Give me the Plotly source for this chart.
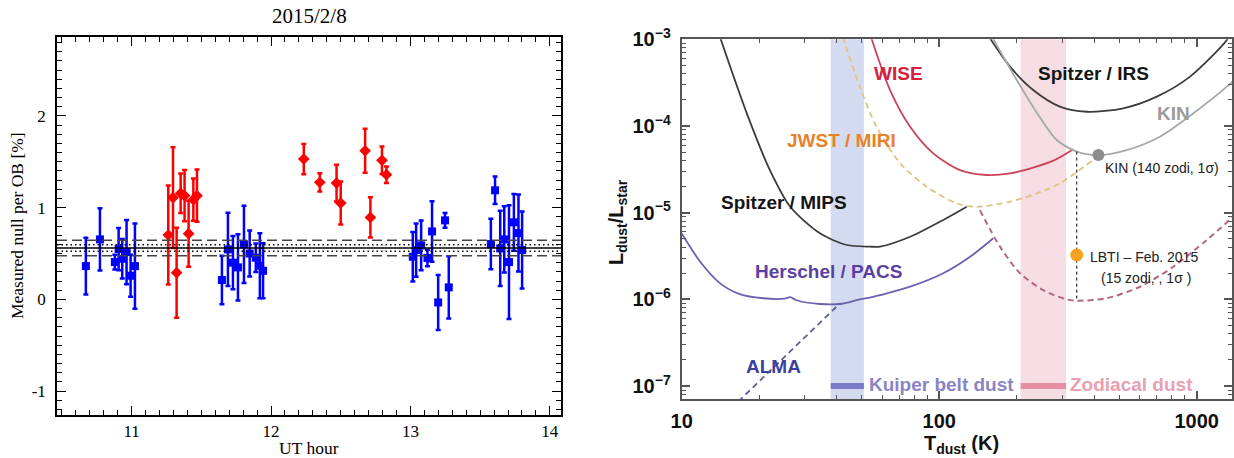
import numpy as np
import plotly.graph_objects as go

# ---------------- Left panel data: measured null per OB ----------------
blue_ut = [10.672, 10.773, 10.880, 10.907, 10.933, 10.964, 10.993, 11.024,
           11.648, 11.691, 11.727, 11.763, 11.806, 11.847, 11.891, 11.920, 11.943,
           13.017, 13.041, 13.077, 13.122, 13.155, 13.199, 13.248, 13.275,
           13.577, 13.607, 13.644, 13.673, 13.707, 13.742, 13.775, 13.801]
blue_null = [0.363, 0.654, 0.407, 0.549, 0.443, 0.516, 0.258, 0.363,
             0.211, 0.545, 0.400, 0.349, 0.600, 0.500, 0.454, 0.367, 0.312,
             0.465, 0.538, 0.589, 0.452, 0.741, -0.033, 0.861, 0.131,
             0.603, 1.189, 0.556, 0.654, 0.407, 0.840, 0.723, 0.538]
blue_err = [0.31, 0.34, 0.08, 0.23, 0.215, 0.35, 0.23, 0.465,
            0.265, 0.40, 0.29, 0.36, 0.42, 0.25, 0.155, 0.355, 0.30,
            0.27, 0.29, 0.27, 0.09, 0.33, 0.30, 0.08, 0.34,
            0.275, 0.15, 0.41, 0.36, 0.62, 0.31, 0.42, 0.42]

red_ut = [11.263, 11.297, 11.323, 11.352, 11.380, 11.409, 11.443, 11.469,
          12.235, 12.350, 12.470, 12.500, 12.675, 12.713, 12.796, 12.828]
red_null = [0.702, 1.109, 0.291, 1.156, 1.131, 0.716, 1.087, 1.131,
            1.530, 1.276, 1.268, 1.050, 1.620, 0.894, 1.516, 1.359]
red_err = [0.54, 0.55, 0.49, 0.215, 0.28, 0.36, 0.23, 0.285,
           0.165, 0.10, 0.20, 0.235, 0.24, 0.22, 0.15, 0.09]

mean_null = 0.56
stat_err = 0.035
tot_err = 0.085

# ---------------- Right panel data: detection limits ----------------
mips_T = [14.1, 17.9, 22.0, 26.4, 34.4, 43.8, 53.8, 58.9, 77.1, 103.7, 127.9]
mips_L = [1.05e-3, 1.40e-4, 3.10e-5, 1.17e-5, 5.78e-6, 4.24e-6, 4.06e-6, 4.06e-6, 5.28e-6, 8.24e-6, 1.17e-5]

pacs_T = [10.0, 11.8, 14.1, 16.8, 20.7, 25.1, 26.4, 27.9, 34.4, 41.2, 49.2, 55.5, 58.9, 77.1, 103.7, 131.8, 162.2]
pacs_L = [5.75e-6, 2.72e-6, 1.53e-6, 1.15e-6, 1.03e-6, 1.02e-6, 1.06e-6, 9.77e-7, 8.85e-7, 8.85e-7, 1.0e-6,
          1.07e-6, 1.12e-6, 1.40e-6, 2.0e-6, 3.10e-6, 5.07e-6]

alma_T = [16.6, 41.2]
alma_L = [6.65e-8, 9.0e-7]

wise_T = [54.3, 64.4, 77.1, 94.8, 120.5, 152.8, 188.4, 231.7, 281.8, 331.9]
wise_L = [1.07e-3, 2.60e-4, 9.82e-5, 4.84e-5, 3.10e-5, 2.72e-5, 2.84e-5, 3.31e-5, 4.07e-5, 5.38e-5]

jwst_T = [42.2, 49.2, 57.1, 70.5, 89.3, 117.0, 140.0, 188.4, 239.3, 294.4, 396.3]
jwst_L = [1.07e-3, 2.82e-4, 9.77e-5, 3.72e-5, 2.0e-5, 1.28e-5, 1.17e-5, 1.34e-5, 1.67e-5, 2.18e-5, 4.06e-5]

zodi_T = [143.9, 172.2, 206.1, 253.5, 312.6, 342.0, 446.7, 602.6, 811.0, 1094.0, 1387.0]
zodi_L = [1.07e-5, 4.06e-6, 2.0e-6, 1.28e-6, 1.0e-6, 9.66e-7, 1.03e-6, 1.40e-6, 2.38e-6, 4.84e-6, 9.0e-6]

irs_T = [156.7, 188.4, 231.7, 294.4, 374.1, 518.8, 699.8, 941.9, 1309.0, 1334.0]
irs_L = [1.05e-3, 4.83e-4, 2.60e-4, 1.67e-4, 1.46e-4, 1.60e-4, 2.18e-4, 3.71e-4, 9.82e-4, 1.12e-3]

kin_T = [160.3, 200.0, 246.0, 285.8, 342.0, 415.0, 534.6, 719.5, 970.5, 1309.0, 1396.0]
kin_L = [1.07e-3, 3.40e-4, 1.26e-4, 6.90e-5, 5.06e-5, 4.62e-5, 5.28e-5, 7.53e-5, 1.40e-4, 2.84e-4, 3.39e-4]

kin_point_T, kin_point_L = 415.0, 4.62e-5
lbti_point_T, lbti_point_L = 342.0, 3.25e-6
lbti_line_L = [5.06e-5, 9.66e-7]

kuiper_T = [37.9, 51.0]
zodiacal_T = [207.0, 311.0]
band_marker_L = 1.0e-7

y_ticks = [1e-7, 1e-6, 1e-5, 1e-4, 1e-3]
y_ticktext = ["<b>10<sup>−7</sup></b>", "<b>10<sup>−6</sup></b>", "<b>10<sup>−5</sup></b>",
              "<b>10<sup>−4</sup></b>", "<b>10<sup>−3</sup></b>"]
x_ticks = [10, 100, 1000]
x_ticktext = ["<b>10</b>", "<b>100</b>", "<b>1000</b>"]

W, H = 1234, 458
SERIF = "Liberation Serif, Times New Roman, serif"
SANS = "Liberation Sans, Arial, Helvetica, sans-serif"

fig = go.Figure()

# ---- left panel traces ----
fig.add_trace(go.Scatter(
    x=blue_ut, y=blue_null, mode="markers",
    marker=dict(symbol="square", size=8, color="#0000ff"),
    error_y=dict(type="data", array=blue_err, color="#0000ff", thickness=2.5, width=2.5),
    xaxis="x", yaxis="y", showlegend=False))
fig.add_trace(go.Scatter(
    x=red_ut, y=red_null, mode="markers",
    marker=dict(symbol="diamond", size=9, color="#ff0000"),
    error_y=dict(type="data", array=red_err, color="#ff0000", thickness=2.5, width=2.5),
    xaxis="x", yaxis="y", showlegend=False))

xr_left = [10.465, 14.08]
for yv, dash, col in [(mean_null, "solid", "black"),
                      (mean_null + stat_err, "1.5px,3px", "black"),
                      (mean_null - stat_err, "1.5px,3px", "black"),
                      (mean_null + tot_err, "10px,5px", "#444444"),
                      (mean_null - tot_err, "10px,5px", "#444444")]:
    fig.add_trace(go.Scatter(x=xr_left, y=[yv, yv], mode="lines",
                             line=dict(color=col, width=1.5, dash=dash),
                             xaxis="x", yaxis="y", showlegend=False, hoverinfo="skip"))

# ---- right panel traces ----
def band(Ts, color):
    fig.add_trace(go.Scatter(x=[Ts[0], Ts[1], Ts[1], Ts[0], Ts[0]],
                             y=[1e-9, 1e-9, 1e-2, 1e-2, 1e-9],
                             mode="lines", fill="toself", fillcolor=color,
                             line=dict(width=0, color=color),
                             xaxis="x2", yaxis="y2", showlegend=False, hoverinfo="skip"))

band(kuiper_T, "rgba(205,213,238,0.85)")
band(zodiacal_T, "rgba(243,215,222,0.85)")

def curve(T, L, color, dash="solid", width=1.8):
    fig.add_trace(go.Scatter(x=T, y=L, mode="lines",
                             line=dict(color=color, width=width, dash=dash, shape="spline", smoothing=0.8),
                             xaxis="x2", yaxis="y2", showlegend=False))

curve(mips_T, mips_L, "#3c3c3c")
curve(pacs_T, pacs_L, "#6c60b0")
curve(alma_T, alma_L, "#5c6090", dash="6px,4px")
curve(jwst_T, jwst_L, "#e2c27e", dash="6px,4px")
curve(zodi_T, zodi_L, "#b46680", dash="6px,4px", width=2)
curve(wise_T, wise_L, "#c9445a")
curve(irs_T, irs_L, "#3c3c3c")
curve(kin_T, kin_L, "#a8a8a8")

fig.add_trace(go.Scatter(x=[lbti_point_T, lbti_point_T], y=lbti_line_L, mode="lines",
                         line=dict(color="black", width=1, dash="dot"),
                         xaxis="x2", yaxis="y2", showlegend=False))
fig.add_trace(go.Scatter(x=kuiper_T, y=[band_marker_L] * 2, mode="lines",
                         line=dict(color="#7a7cc9", width=6), xaxis="x2", yaxis="y2", showlegend=False))
fig.add_trace(go.Scatter(x=zodiacal_T, y=[band_marker_L] * 2, mode="lines",
                         line=dict(color="#e58fa2", width=6), xaxis="x2", yaxis="y2", showlegend=False))
fig.add_trace(go.Scatter(x=[kin_point_T], y=[kin_point_L], mode="markers",
                         marker=dict(size=12, color="#8c8c8c"), xaxis="x2", yaxis="y2", showlegend=False))
fig.add_trace(go.Scatter(x=[lbti_point_T], y=[lbti_point_L], mode="markers",
                         marker=dict(size=13, color="#f5a31e"), xaxis="x2", yaxis="y2", showlegend=False))

# ---- layout ----
def px_x(p):
    return p / W

def px_y(p):
    return 1 - p / H

left_axis_common = dict(showline=True, linecolor="black", linewidth=1.5, mirror="allticks",
                        ticks="inside", ticklen=9, tickwidth=1.3, tickcolor="black",
                        showgrid=False, zeroline=False,
                        tickfont=dict(family=SERIF, size=17, color="black"),
                        automargin=False)

right_axis_common = dict(type="log", showline=True, linecolor="#555555", linewidth=2, mirror="allticks",
                         ticks="inside", ticklen=8, tickwidth=1.5, tickcolor="#555555",
                         showgrid=False, zeroline=False,
                         tickfont=dict(family=SANS, size=20, color="#111111"),
                         automargin=False)

minor_x2 = [v * m for v in (10, 100) for m in range(2, 10)]
minor_y2 = [v * m for v in (1e-8, 1e-7, 1e-6, 1e-5, 1e-4) for m in range(2, 10)]

fig.update_layout(
    width=W, height=H, margin=dict(l=0, r=0, t=0, b=0),
    paper_bgcolor="white", plot_bgcolor="white",
    xaxis=dict(domain=[px_x(57), px_x(561)], range=xr_left, anchor="y",
               tickvals=[11, 12, 13, 14], ticklabelstandoff=0,
               minor=dict(dtick=0.1, tick0=0, ticks="inside", ticklen=5, tickwidth=1, tickcolor="black"),
               **left_axis_common),
    yaxis=dict(domain=[px_y(415), px_y(37)], range=[-1.26, 2.86], anchor="x",
               tickvals=[-1, 0, 1, 2], ticktext=["-1", "0", "1", "2"], ticklabelstandoff=6,
               minor=dict(dtick=0.1, tick0=0, ticks="inside", ticklen=5, tickwidth=1, tickcolor="black"),
               **left_axis_common),
    xaxis2=dict(domain=[px_x(681.7), px_x(1232)], range=[1, 3.137], anchor="y2",
                tickvals=x_ticks, ticktext=x_ticktext, ticklabelstandoff=3,
                minor=dict(tickvals=minor_x2, ticks="inside", ticklen=4, tickwidth=1.2, tickcolor="#555555"),
                **right_axis_common),
    yaxis2=dict(domain=[px_y(399), px_y(39.3)], range=[-7.149, -3], anchor="x2",
                tickvals=y_ticks, ticktext=y_ticktext, ticklabelstandoff=5,
                minor=dict(tickvals=minor_y2, ticks="inside", ticklen=4, tickwidth=1.2, tickcolor="#555555"),
                **right_axis_common),
)

ann = []

def paper_text(text, xp, yp, size, family, angle=0, color="black"):
    ann.append(dict(text=text, x=px_x(xp), y=px_y(yp), xref="paper", yref="paper",
                    xanchor="center", yanchor="middle", textangle=angle, showarrow=False,
                    font=dict(family=family, size=size, color=color)))

# left titles
paper_text("2015/2/8", 309, 16, 21, SERIF)
paper_text("UT hour", 309, 448, 17.5, SERIF)
paper_text("Measured null per OB [%]", 17, 226, 17.5, SERIF, angle=-90)
# right titles
paper_text("<b>L<sub>dust</sub>/L<sub>star</sub></b>", 617, 222, 20, SANS, angle=-90, color="#111111")
paper_text("<b>T<sub>dust</sub> (K)</b>", 962, 444, 20, SANS, color="#111111")

def lab(text, T, L, color, size=19, anchor="center", bold=True):
    t = f"<b>{text}</b>" if bold else text
    ann.append(dict(text=t, x=np.log10(T), y=np.log10(L), xref="x2", yref="y2",
                    xanchor=anchor, yanchor="middle", showarrow=False,
                    font=dict(family=SANS, size=size, color=color)))

lab("WISE", 10 ** 1.84, 10 ** -3.389, "#d6213a")
lab("Spitzer / IRS", 10 ** 2.598, 10 ** -3.389, "#151515")
lab("KIN", 10 ** 2.908, 10 ** -3.851, "#9a9a9a")
lab("JWST / MIRI", 10 ** 1.622, 10 ** -4.163, "#e8822a")
lab("Spitzer / MIPS", 10 ** 1.397, 10 ** -4.888, "#151515")
lab("Herschel / PACS", 10 ** 1.569, 10 ** -5.684, "#5a3fa5")
lab("ALMA", 10 ** 1.355, 10 ** -6.779, "#3b3f9e")
lab("Kuiper belt dust", 10 ** 1.72, 10 ** -6.987, "#8a84c6", anchor="left")
lab("Zodiacal dust", 10 ** 2.501, 10 ** -6.987, "#eaa0b0", anchor="left")
lab("KIN (140 zodi, 1σ)", 10 ** 2.636, 10 ** -4.484, "#222222", size=14, anchor="left", bold=False)
lab("LBTI – Feb. 2015", 10 ** 2.796, 10 ** -5.51, "#222222", size=14, bold=False)
lab("(15 zodi, , 1σ )", 10 ** 2.804, 10 ** -5.754, "#222222", size=14, bold=False)

fig.update_layout(annotations=ann)
fig.write_html("out.html")
